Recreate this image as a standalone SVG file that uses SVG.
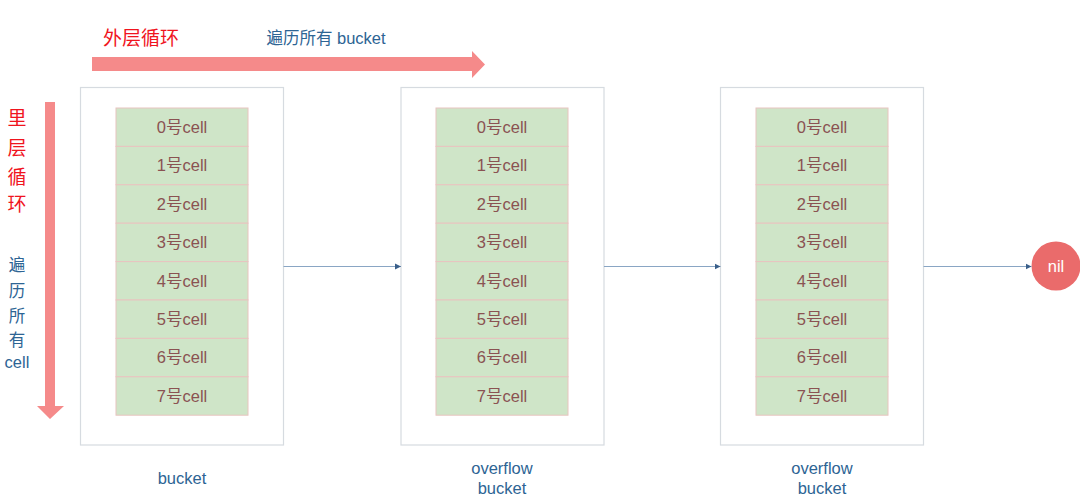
<svg xmlns="http://www.w3.org/2000/svg" width="1080" height="499" viewBox="0 0 1080 499">
<style>
.bucket{fill:#ffffff;stroke:#d6dbe0;stroke-width:1.2}
.cell{fill:#cfe5c8;stroke:#e8c4bf;stroke-width:1}
.ct{font-family:"Liberation Sans",Arial,"Noto Sans CJK SC",sans-serif;font-size:16.5px;fill:#8a5252;text-anchor:middle}
.lbl{font-family:"Liberation Sans",Arial,"Noto Sans CJK SC",sans-serif;font-size:16.5px;fill:#2d6494;text-anchor:middle}
.red{font-family:"Noto Sans CJK SC",sans-serif;font-size:19px;fill:#f0141e;font-weight:normal}
.conn{stroke:#8aa6c4;stroke-width:1;fill:none}
</style>
<defs>
<marker id="ah" markerWidth="8" markerHeight="8" refX="6" refY="4" orient="auto" markerUnits="userSpaceOnUse">
<path d="M0,1 L6,4 L0,7 Z" fill="#3a5f8a"/>
</marker>
<g id="cells">
<rect class="cell" x="0" y="0" width="132" height="38.4"/>
<rect class="cell" x="0" y="38.4" width="132" height="38.4"/>
<rect class="cell" x="0" y="76.8" width="132" height="38.4"/>
<rect class="cell" x="0" y="115.2" width="132" height="38.4"/>
<rect class="cell" x="0" y="153.6" width="132" height="38.4"/>
<rect class="cell" x="0" y="192" width="132" height="38.4"/>
<rect class="cell" x="0" y="230.4" width="132" height="38.4"/>
<rect class="cell" x="0" y="268.8" width="132" height="38.4"/>
<text class="ct" x="66" y="25">0号cell</text>
<text class="ct" x="66" y="63.4">1号cell</text>
<text class="ct" x="66" y="101.8">2号cell</text>
<text class="ct" x="66" y="140.2">3号cell</text>
<text class="ct" x="66" y="178.6">4号cell</text>
<text class="ct" x="66" y="217">5号cell</text>
<text class="ct" x="66" y="255.4">6号cell</text>
<text class="ct" x="66" y="293.8">7号cell</text>
</g>
</defs>

<g id="outer-loop">
<path d="M92,57 L472,57 L472,51 L485,64.5 L472,78 L472,71 L92,71 Z" fill="#f58a8a"/>
<text class="red" x="103" y="45">外层循环</text>
<text class="lbl" x="326" y="44">遍历所有 bucket</text>
</g>

<g id="inner-loop">
<path d="M45,102 L55,102 L55,406 L64,406 L50,419 L37,406 L45,406 Z" fill="#f58a8a"/>
<text class="red" x="17" y="125" text-anchor="middle">里</text>
<text class="red" x="17" y="155" text-anchor="middle">层</text>
<text class="red" x="17" y="184" text-anchor="middle">循</text>
<text class="red" x="17" y="211" text-anchor="middle">环</text>
<text class="lbl" x="17" y="271">遍</text>
<text class="lbl" x="17" y="297">历</text>
<text class="lbl" x="17" y="322">所</text>
<text class="lbl" x="17" y="346">有</text>
<text class="lbl" x="17" y="368">cell</text>
</g>

<g id="bucket1">
<rect class="bucket" x="80.5" y="87.5" width="203" height="357.5"/>
<use href="#cells" x="116" y="108"/>
<text class="lbl" x="182" y="484">bucket</text>
</g>

<g id="bucket2">
<rect class="bucket" x="401" y="87.5" width="203" height="357.5"/>
<use href="#cells" x="436" y="108"/>
<text class="lbl" x="502" y="474">overflow</text>
<text class="lbl" x="502" y="494">bucket</text>
</g>

<g id="bucket3">
<rect class="bucket" x="720.5" y="87.5" width="203" height="357.5"/>
<use href="#cells" x="756" y="108"/>
<text class="lbl" x="822" y="474">overflow</text>
<text class="lbl" x="822" y="494">bucket</text>
</g>

<g id="nil">
<circle cx="1056" cy="266" r="24.5" fill="#ea6b6b"/>
<text x="1056" y="272" text-anchor="middle" font-family="Liberation Sans,Arial,sans-serif" font-size="16.5" fill="#ffffff">nil</text>
</g>

<g id="connectors">
<line class="conn" x1="283.5" y1="266.5" x2="401" y2="266.5" marker-end="url(#ah)"/>
<line class="conn" x1="604" y1="266.5" x2="720.5" y2="266.5" marker-end="url(#ah)"/>
<line class="conn" x1="923.5" y1="266.5" x2="1031.5" y2="266.5" marker-end="url(#ah)"/>
</g>
</svg>
